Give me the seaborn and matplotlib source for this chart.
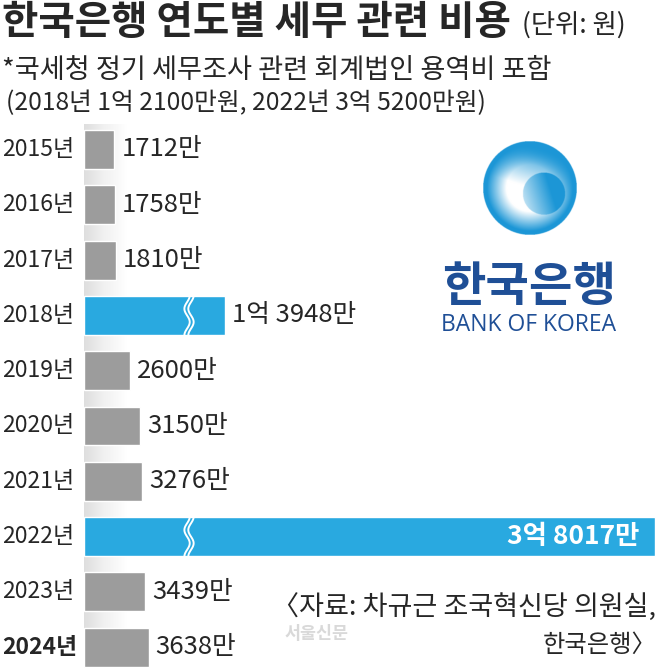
import matplotlib
matplotlib.use("Agg")
import matplotlib.pyplot as plt
import matplotlib.transforms as mtransforms
import numpy as np
import pandas as pd
import seaborn as sns

# data (unit: 만원)
years = ["2015년", "2016년", "2017년", "2018년", "2019년",
         "2020년", "2021년", "2022년", "2023년", "2024년"]
costs = [1712, 1758, 1810, 13948, 2600, 3150, 3276, 38017, 3439, 3638]
# bars cut with a break mark -> drawn length
broken = {"2018년": 7920, "2022년": 32080}
highlight = ["2018년", "2022년"]

title = "한국은행 연도별 세무 관련 비용"
unit = "(단위: 원)"
note1 = "*국세청 정기 세무조사 관련 회계법인 용역비 포함"
note2 = "(2018년 1억 2100만원, 2022년 3억 5200만원)"
source1 = "〈자료: 차규근 조국혁신당 의원실,"
source2 = "한국은행〉"
watermark = "서울신문"

GRAY = "#9c9c9c"
BLUE = "#29a9e0"
NAVY = "#1f4f96"


def won_label(v):
    if v >= 10000:
        return f"{v // 10000}억 {v % 10000}만"
    return f"{v}만"


df = pd.DataFrame({"year": years, "cost": costs})
df["shown"] = [broken.get(y, c) for y, c in zip(years, costs)]
colors = {y: (BLUE if y in highlight else GRAY) for y in years}

sns.set_style("white")
plt.rcParams["font.family"] = ["Noto Sans CJK KR", "DejaVu Sans"]

W, H = 658, 668
fig = plt.figure(figsize=(W / 100, H / 100), dpi=100)

# background axes in pixel coords for texts / logo
bg = fig.add_axes([0, 0, 1, 1], zorder=0)
bg.axis("off")

# soft shadow along the bar baseline
grad = np.linspace(1, 0, 60)[None, :]
bg.imshow(grad, extent=(84, 128, 668, 124), cmap="Greys", vmin=0, vmax=4.5,
          aspect="auto")

# logo circle (rough swirl)
n = 300
u, v = np.meshgrid(np.linspace(-1, 1, n), np.linspace(-1, 1, n))
r = np.hypot(u, v)
edge_blue = np.array([0.11, 0.59, 0.84])
w_up = np.clip(0.35 + (v + 0.6) * 1.1 - 0.35 * u, 0, 1)
w_low = np.clip(1 - (r - 0.5) * 2.4, 0, 1)
w = w_up * w_low
dB = np.hypot(u - 0.3, v - 0.12)
in_blob = dB <= 0.45
w_blob = np.clip(0.45 - 1.1 * (u - 0.05) + 0.35 * (v - 0.1), 0, 0.7)
w = np.where(in_blob, w_blob, w)
img = edge_blue * (1 - w[..., None]) + w[..., None]
alpha = (r <= 1).astype(float)[..., None]
rgba = np.concatenate([img, alpha], axis=-1)
bg.imshow(rgba, extent=(483, 577, 235, 141), interpolation="bilinear")

bg.set_xlim(0, W)
bg.set_ylim(H, 0)

bg.text(2, 22, title, fontsize=28.5, fontweight="bold", ha="left", va="center")
bg.text(522, 25, unit, fontsize=19, ha="left", va="center")
bg.text(2, 70, note1, fontsize=19.6, ha="left", va="center")
bg.text(6, 103, note2, fontsize=17.8, ha="left", va="center")
bg.text(529, 287, "한국은행", fontsize=34, color=NAVY, ha="center",
        va="center", fontweight="bold")
bg.text(529, 325, "BANK OF KOREA", fontsize=16.5, color=NAVY, ha="center",
        va="center", family="Open Sans")
bg.text(656, 607, source1, fontsize=19.5, ha="right", va="center")
bg.text(656, 645, source2, fontsize=17.5, ha="right", va="center")
bg.text(285, 634, watermark, fontsize=12.5, ha="left", va="center",
        color="#d9d9d9", fontweight="bold")

# bar axes
ax = fig.add_axes([84 / W, 0, 574 / W, 546 / H], zorder=1)
ax.patch.set_alpha(0)
sns.barplot(data=df, x="shown", y="year", hue="year", palette=colors,
            order=years, width=0.705, saturation=1, legend=False, ax=ax)
ax.set_xlim(0, 574 / 0.0178)
ax.set_ylim(9.376, -0.497)
ax.axis("off")

trans = mtransforms.blended_transform_factory(bg.transData, ax.transData)
for i, (y, c, s) in enumerate(zip(years, costs, df["shown"])):
    ax.text(2, i, y, transform=trans, fontsize=16.5, ha="left", va="center",
            fontweight="bold" if y == "2024년" else "normal")
    if y == "2022년":
        ax.annotate(won_label(c), xy=(s, i), xytext=(-11, 0),
                    textcoords="offset points", ha="right", va="center",
                    fontsize=19, color="white", fontweight="bold")
    else:
        ax.annotate(won_label(c), xy=(s, i), xytext=(5, 0),
                    textcoords="offset points", ha="left", va="center",
                    fontsize=18.5)

# break marks
tt = np.linspace(-0.36, 0.36, 80)
brk = 5900
for i, y in enumerate(years):
    if y in broken:
        for off in (-110, 110):
            ax.plot(brk + off + 150 * np.sin(tt / 0.72 * 3 * np.pi), i + tt,
                    color="white", lw=1.4)

fig.savefig("out.png", dpi=100)
